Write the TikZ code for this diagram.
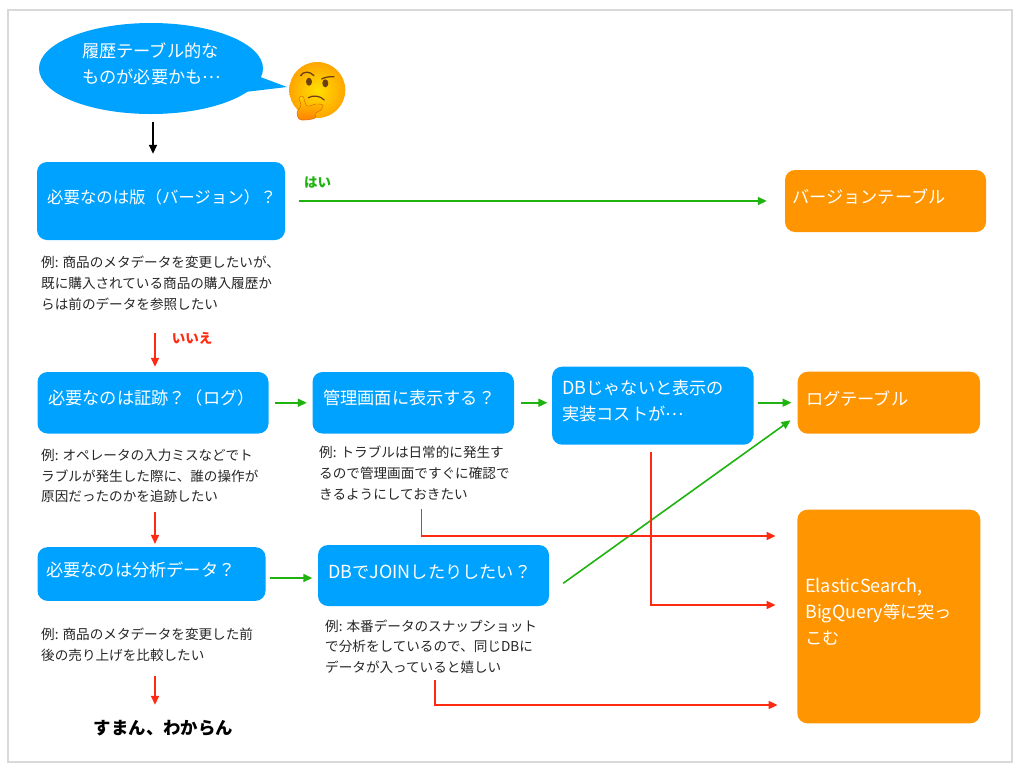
\documentclass[tikz,border=0pt]{standalone}
\usepackage{fontspec}
\setmainfont{Noto Sans CJK JP}
\usepackage{xcolor}
\usetikzlibrary{arrows.meta}
\usetikzlibrary{shapes.geometric}
\definecolor{qblue}{HTML}{00A2FF}
\definecolor{qorange}{HTML}{FF9500}
\definecolor{qred}{HTML}{FF2A12}
\definecolor{qgreen}{HTML}{1FB30F}
\definecolor{facebrown}{HTML}{6B3F12}
\newcommand{\qdots}{\raisebox{.3em}{…}}
\newcommand{\lat}[1]{{\fontsize{18}{26}\selectfont #1}}
\tikzset{
  box/.style={rectangle,rounded corners=10pt,inner sep=0pt},
  bluebox/.style={box,fill=qblue},
  orangebox/.style={box,fill=qorange},
  boxtext/.style={anchor=west,inner sep=0pt,align=left,text=white,font=\fontsize{17.2}{26}\selectfont},
  extext/.style={anchor=west,inner sep=0pt,align=left,text=black!85,font=\fontsize{13.6}{20.8}\selectfont},
  tip/.style={-{Triangle[length=9pt,width=8pt]},line width=1.6pt},
  yes/.style={tip,draw=qgreen},
  no/.style={tip,draw=qred},
}
\begin{document}
\begin{tikzpicture}[x=1pt,y=-1pt]
    \useasboundingbox (0,0) rectangle (1020,772);
    \draw[black!15,line width=2pt] (8,10) rectangle (1012,762);
    %
    % speech bubble
    \node[ellipse,fill=qblue,inner sep=0pt,minimum width=224pt,minimum height=91pt] (bubble) at (151,68.5) {};
    \fill[qblue] (255,75) -- (287,87) -- (245,92) -- cycle;
    \node[boxtext] (bubbletxt) at (82,64) {履歴テーブル的な\\ものが必要かも\qdots};
    %
    % questions
    \node[bluebox,minimum width=248pt,minimum height=78pt] (ver) at (161,201) {};
    \node[bluebox,minimum width=231pt,minimum height=61.5pt] (log) at (153,402.75) {};
    \node[bluebox,minimum width=201.5pt,minimum height=61.5pt] (admin) at (413.25,402.75) {};
    \node[bluebox,minimum width=201.5pt,minimum height=78pt] (cost) at (652.85,405.7) {};
    \node[bluebox,minimum width=228pt,minimum height=53.7pt] (ana) at (151.5,574) {};
    \node[bluebox,minimum width=231pt,minimum height=61pt] (join) at (433.5,575.5) {};
    %
    % answers
    \node[orangebox,minimum width=201pt,minimum height=62pt] (vertab) at (885.5,201) {};
    \node[orangebox,minimum width=182.3pt,minimum height=62pt] (logtab) at (888.85,402.7) {};
    \node[orangebox,minimum width=183pt,minimum height=213.6pt] (elastic) at (888.8,616.5) {};
    %
    \node[boxtext,font=\fontsize{16.4}{26}\selectfont] (vertxt) at (47,197) {必要なのは版（バージョン）？};
    \node[boxtext] (logtxt) at (48,398) {必要なのは証跡？（ログ）};
    \node[boxtext] (admintxt) at (323,398) {管理画面に表示する？};
    \node[boxtext] (costtxt) at (562,401) {\lat{DB}じゃないと表示の\\実装コストが\qdots};
    \node[boxtext] (anatxt) at (46,570) {必要なのは分析データ？};
    \node[boxtext] (jointxt) at (328,572) {\lat{DB}で\lat{JOIN}したりしたい？};
    \node[boxtext] (vertabtxt) at (792,197) {バージョンテーブル};
    \node[boxtext] (logtabtxt) at (806,399) {ログテーブル};
    \node[boxtext] (elastictxt) at (805,612) {\lat{ElasticSearch,}\\\lat{BigQuery}等に突っ\\こむ};
    %
    % examples under the questions
    \node[extext] (verex) at (41,283) {例: 商品のメタデータを変更したいが、\\既に購入されている商品の購入履歴か\\らは前のデータを参照したい};
    \node[extext] (logex) at (41,476) {例: オペレータの入力ミスなどでト\\ラブルが発生した際に、誰の操作が\\原因だったのかを追跡したい};
    \node[extext] (adminex) at (319,473) {例: トラブルは日常的に発生す\\るので管理画面ですぐに確認で\\きるようにしておきたい};
    \node[extext] (anaex) at (41,644.5) {例: 商品のメタデータを変更した前\\後の売り上げを比較したい};
    \node[extext] (joinex) at (325,646.7) {例: 本番データのスナップショット\\で分析をしているので、同じDBに\\データが入っていると嬉しい};
    %
    \node[inner sep=0pt,font=\fontsize{17.4}{20}\selectfont\bfseries] (sorry) at (163.5,728) {すまん、わからん};
    \node[inner sep=0pt,text=qgreen,font=\fontsize{13.5}{14}\selectfont\bfseries] (yeslabel) at (317.5,183) {はい};
    \node[inner sep=0pt,text=qred,font=\fontsize{13.5}{14}\selectfont\bfseries] (nolabel) at (192,338) {いいえ};
    %
    % flow
    \draw[tip,shorten <=8pt,shorten >=8pt] ([xshift=2pt]bubble.south) -- ([xshift=-8pt]ver.north);
    \draw[yes,shorten <=14pt,shorten >=18pt] (ver.east) -- (vertab.west);
    \draw[yes,shorten <=6.5pt,shorten >=5.5pt] (log.east) -- (admin.west);
    \draw[yes,shorten <=6.5pt,shorten >=4.5pt] (admin.east) -- (admin.east -| cost.west);
    \draw[yes,shorten <=4pt,shorten >=6pt] (logtab.west -| cost.east) -- (logtab.west);
    \draw[yes,shorten <=4.5pt,shorten >=5.5pt] ([yshift=-4pt]ana.east) -- ([yshift=-2.5pt]join.west);
    \draw[yes] ([xshift=14pt,yshift=-7.8pt]join.east) -- ([xshift=-7pt,yshift=-17.6pt]logtab.west);
    %
    \draw[no,shorten <=23pt,shorten >=5pt] ([xshift=2pt]log.north |- verex.south) -- ([xshift=2pt]log.north);
    \draw[no,shorten <=9pt,shorten >=3pt] ([xshift=3.5pt]ana.north |- logex.south) -- ([xshift=3.5pt]ana.north);
    \draw[no,shorten <=15pt,shorten >=6pt] ([xshift=3.5pt]ana.south |- anaex.south) -- ([xshift=3.5pt,yshift=9pt]ana.south |- sorry.north);
    \draw[no,shorten <=9pt,shorten >=21.5pt] ([xshift=8.25pt]admin.south |- adminex.south) |- ([yshift=80.5pt]elastic.west);
    \draw[no,shorten <=7pt,shorten >=21.5pt] ([xshift=-2.15pt]cost.south) |- ([yshift=11.5pt]elastic.west);
    \draw[no,shorten <=6pt,shorten >=19.5pt] ([xshift=1.5pt]join.south |- joinex.south) |- ([yshift=-88.5pt]elastic.west);
    %
    % thinking face
    \shade[inner color=yellow!75!orange,outer color=orange!70!yellow] (317.3,90) circle (28);
    \fill[facebrown] (309,81.7) ellipse (3 and 4);
    \fill[facebrown] (325.3,83.3) ellipse (3 and 4);
    \draw[facebrown,line width=1.3pt,line cap=round] (300.7,75.7) .. controls (303,71) and (310,71) .. (314,75.7);
    \draw[facebrown,line width=1.3pt,line cap=round] (321.7,79) .. controls (325,77) and (330,76.5) .. (334,76.7);
    \draw[facebrown,line width=1.2pt,line cap=round] (308.3,97.7) .. controls (313,95) and (320,95.5) .. (324.3,100);
    % hand on the chin
    \shade[top color=yellow!65!orange,bottom color=orange,draw=orange!80!black,line width=0.4pt]
      plot[smooth cycle,tension=0.6] coordinates {(299,98) (303,96.5) (307,106) (316,104) (323,105) (321,110) (316,113) (315,118) (306,120) (299,119) (297,112) (301,106)};
\end{tikzpicture}
\end{document}
